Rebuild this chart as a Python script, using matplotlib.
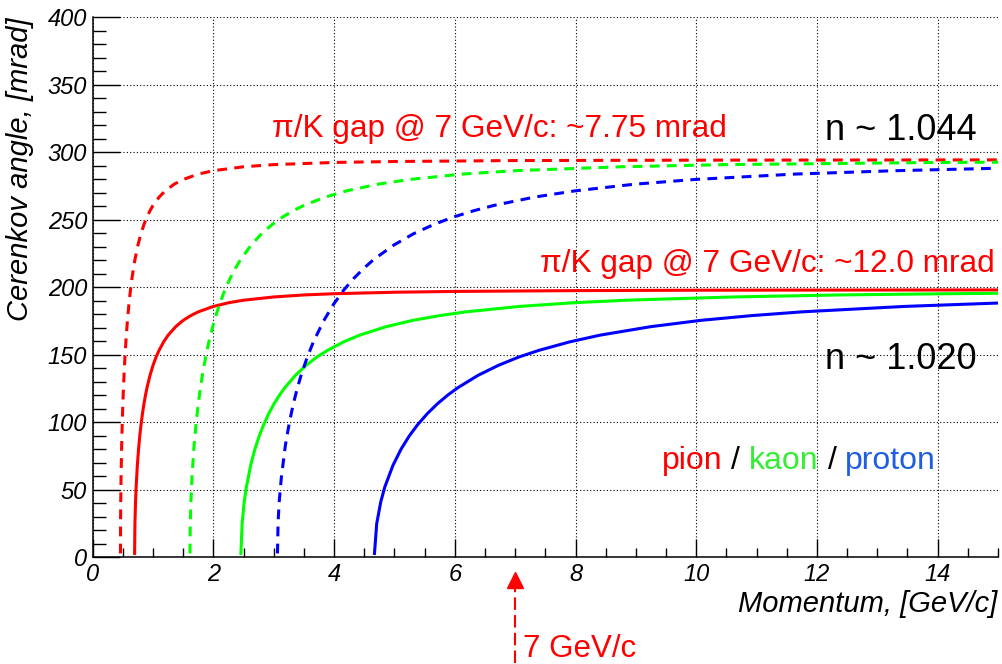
import matplotlib
matplotlib.use("Agg")
import matplotlib.pyplot as plt
from matplotlib.ticker import MultipleLocator
from matplotlib.transforms import blended_transform_factory

# ---------------- data ----------------
# n ~ 1.020 (solid)
pion_p_solid = [0.6945, 0.70, 0.71, 0.72, 0.74, 0.76, 0.78, 0.80, 0.825, 0.85, 0.875, 0.90,
                0.95, 1.0, 1.05, 1.1, 1.175, 1.25, 1.375, 1.5, 1.625, 1.75, 2.0, 2.25, 2.5,
                3.0, 3.5, 4.0, 5.0, 6.0, 8.0, 10.0, 12.0, 15.0]
pion_theta_solid = [3, 25.1, 41.2, 52.2, 68.2, 80.2, 89.9, 98.0, 106.6, 113.9, 120.2, 125.7,
                    134.9, 142.3, 148.4, 153.4, 159.6, 164.6, 170.9, 175.6, 179.1, 181.9, 185.9,
                    188.6, 190.5, 192.9, 194.4, 195.3, 196.4, 197.0, 197.6, 197.9, 198.0, 198.1]

kaon_p_solid = [2.456, 2.476, 2.511, 2.547, 2.617, 2.688, 2.759, 2.830, 2.918, 3.006, 3.095,
                3.183, 3.360, 3.537, 3.714, 3.891, 4.156, 4.421, 4.863, 5.306, 5.748, 6.190,
                7.074, 7.958, 8.843, 10.61, 12.38, 14.15, 15.0]
kaon_theta_solid = [3, 25.1, 41.2, 52.2, 68.2, 80.2, 89.9, 98.0, 106.6, 113.9, 120.2,
                    125.7, 134.9, 142.3, 148.4, 153.4, 159.6, 164.6, 170.9, 175.6, 179.1, 181.9,
                    185.9, 188.6, 190.5, 192.9, 194.4, 195.3, 195.6]

proton_p_solid = [4.669, 4.706, 4.773, 4.840, 4.975, 5.109, 5.244, 5.378, 5.546, 5.714, 5.882,
                  6.050, 6.386, 6.723, 7.059, 7.395, 7.899, 8.403, 9.244, 10.08, 10.92, 11.76,
                  13.45, 15.0]
proton_theta_solid = [3, 25.1, 41.2, 52.2, 68.2, 80.2, 89.9, 98.0, 106.6, 113.9, 120.2,
                      125.7, 134.9, 142.3, 148.4, 153.4, 159.6, 164.6, 170.9, 175.6, 179.1, 181.9,
                      185.9, 188.4]

# n ~ 1.044 (dashed)
pion_p_dash = [0.4605, 0.462, 0.465, 0.47, 0.48, 0.49, 0.50, 0.51, 0.52, 0.535, 0.55, 0.575,
               0.60, 0.625, 0.65, 0.675, 0.70, 0.75, 0.80, 0.85, 0.90, 0.95, 1.0, 1.1, 1.2,
               1.35, 1.5, 1.75, 2.0, 2.5, 3.0, 4.0, 5.0, 7.0, 10.0, 15.0]
pion_theta_dash = [3, 26.4, 42.1, 59.3, 82.8, 100.0, 113.9, 125.6, 135.7, 148.7, 159.7, 175.0,
                   187.4, 197.8, 206.5, 214.0, 220.6, 231.3, 239.8, 246.6, 252.2, 256.8, 260.7,
                   266.8, 271.4, 276.4, 279.9, 283.9, 286.4, 289.3, 290.9, 292.5, 293.2, 293.9,
                   294.2, 294.4]

kaon_p_dash = [1.612, 1.617, 1.628, 1.645, 1.680, 1.715, 1.750, 1.785, 1.820, 1.873, 1.925,
               2.013, 2.100, 2.188, 2.275, 2.363, 2.450, 2.625, 2.800, 2.975, 3.150, 3.325,
               3.500, 3.850, 4.200, 4.725, 5.250, 6.125, 7.000, 8.750, 10.50, 14.00, 15.0]
kaon_theta_dash = [3, 26.4, 42.1, 59.3, 82.8, 100.0, 113.9, 125.6, 135.7, 148.7, 159.7,
                   175.0, 187.4, 197.8, 206.5, 214.0, 220.6, 231.3, 239.8, 246.6, 252.2, 256.8,
                   260.7, 266.8, 271.4, 276.4, 279.9, 283.9, 286.4, 289.3, 290.9, 292.5, 292.7]

proton_p_dash = [3.062, 3.072, 3.092, 3.126, 3.192, 3.259, 3.325, 3.392, 3.458, 3.558, 3.658,
                 3.824, 3.990, 4.156, 4.323, 4.489, 4.655, 4.988, 5.320, 5.653, 5.985, 6.318,
                 6.650, 7.315, 7.980, 8.978, 9.975, 11.64, 13.30, 15.0]
proton_theta_dash = [3, 26.4, 42.1, 59.3, 82.8, 100.0, 113.9, 125.6, 135.7, 148.7, 159.7,
                     175.0, 187.4, 197.8, 206.5, 214.0, 220.6, 231.3, 239.8, 246.6, 252.2, 256.8,
                     260.7, 266.8, 271.4, 276.4, 279.9, 283.9, 286.4, 288.2]

x_ticks = [0, 2, 4, 6, 8, 10, 12, 14]
x_tick_labels = ["0", "2", "4", "6", "8", "10", "12", "14"]
y_ticks = [0, 50, 100, 150, 200, 250, 300, 350, 400]
y_tick_labels = ["0", "50", "100", "150", "200", "250", "300", "350", "400"]

arrow_p = 7.0

RED = "#ff0000"
GREEN = "#00ff00"
BLUE = "#0000ff"

# ---------------- figure ----------------
plt.rcParams["font.family"] = ["Liberation Sans", "DejaVu Sans"]

fig = plt.figure(figsize=(10.02, 6.64), dpi=100)
ax = fig.add_axes([0.0925, 0.1604, 0.9035, 0.8136])
ax.set_xlim(0, 15)
ax.set_ylim(0, 400)

ax.set_xticks(x_ticks)
ax.set_xticklabels(x_tick_labels, fontstyle="italic", fontsize=17)
ax.set_yticks(y_ticks)
ax.set_yticklabels(y_tick_labels, fontstyle="italic", fontsize=17)
ax.xaxis.set_minor_locator(MultipleLocator(0.5))
ax.yaxis.set_minor_locator(MultipleLocator(10))

ax.tick_params(which="both", direction="in", top=False, right=False, color="black")
ax.tick_params(axis="y", which="major", length=19.4, width=1.0, pad=4)
ax.tick_params(axis="y", which="minor", length=9.7, width=1.0)
ax.tick_params(axis="x", which="major", length=13, width=1.0, pad=4)
ax.tick_params(axis="x", which="minor", length=6.5, width=1.0)

for s in ["top", "right"]:
    ax.spines[s].set_visible(False)
for s in ["left", "bottom"]:
    ax.spines[s].set_linewidth(1.1)

ax.grid(True, which="major", color="black", linestyle=(0, (1, 2)), linewidth=0.8)
ax.set_axisbelow(True)

lw = 2.2
ax.plot(pion_p_solid, pion_theta_solid, color=RED, lw=lw)
ax.plot(kaon_p_solid, kaon_theta_solid, color=GREEN, lw=lw)
ax.plot(proton_p_solid, proton_theta_solid, color=BLUE, lw=lw)
dash = (0, (3.2, 2.4))
ax.plot(pion_p_dash, pion_theta_dash, color=RED, lw=lw, ls=dash)
ax.plot(kaon_p_dash, kaon_theta_dash, color=GREEN, lw=lw, ls=dash)
ax.plot(proton_p_dash, proton_theta_dash, color=BLUE, lw=lw, ls=dash)

# annotations
ax.text(2.97, 311.7, "π/K gap @ 7 GeV/c: ~7.75 mrad", color=RED, fontsize=22.7,
        va="baseline", ha="left")
ax.text(7.41, 211.6, "π/K gap @ 7 GeV/c: ~12.0 mrad", color=RED, fontsize=22.7,
        va="baseline", ha="left")
ax.text(12.13, 309.4, "n ~ 1.044", color="black", fontsize=26, va="baseline", ha="left")
ax.text(12.13, 139.7, "n ~ 1.020", color="black", fontsize=26, va="baseline", ha="left")

sp = 6.4
t = ax.text(9.43, 65.6, "pion", color=RED, fontsize=23, va="baseline", ha="left")
pieces = [("/", "black"), ("kaon", "#33ee33"), ("/", "black"), ("proton", "#1f5fdf")]
prev = t
for txt, col in pieces:
    prev = ax.annotate(txt, xy=(1, 0), xycoords=prev, xytext=(sp, 0), textcoords="offset points",
                       color=col, fontsize=23, va="bottom", ha="left")

# axis titles
fig.text(0.02, 1 - 17.5 / 664, "Cerenkov angle, [mrad]", rotation=90, ha="center", va="top",
         fontsize=21, fontstyle="italic")
fig.text(997 / 1002, 1 - 612 / 664, "Momentum, [GeV/c]", ha="right", va="baseline",
         fontsize=21, fontstyle="italic")

# 7 GeV/c arrow below the axis
trans = blended_transform_factory(ax.transData, fig.transFigure)
ax.plot([arrow_p, arrow_p], [1 - 663 / 664, 1 - 586 / 664], transform=trans, color=RED,
        lw=1.5, ls=(0, (6, 2.5)), clip_on=False)
ax.plot([arrow_p], [1 - 579.5 / 664], marker="^", ms=11, color=RED, transform=trans,
        clip_on=False, linestyle="none")
ax.text(arrow_p + 0.13, 1 - 657 / 664, "7 GeV/c", transform=trans, color=RED, fontsize=22.5,
        va="baseline", ha="left")

fig.savefig("out.png", dpi=100)
